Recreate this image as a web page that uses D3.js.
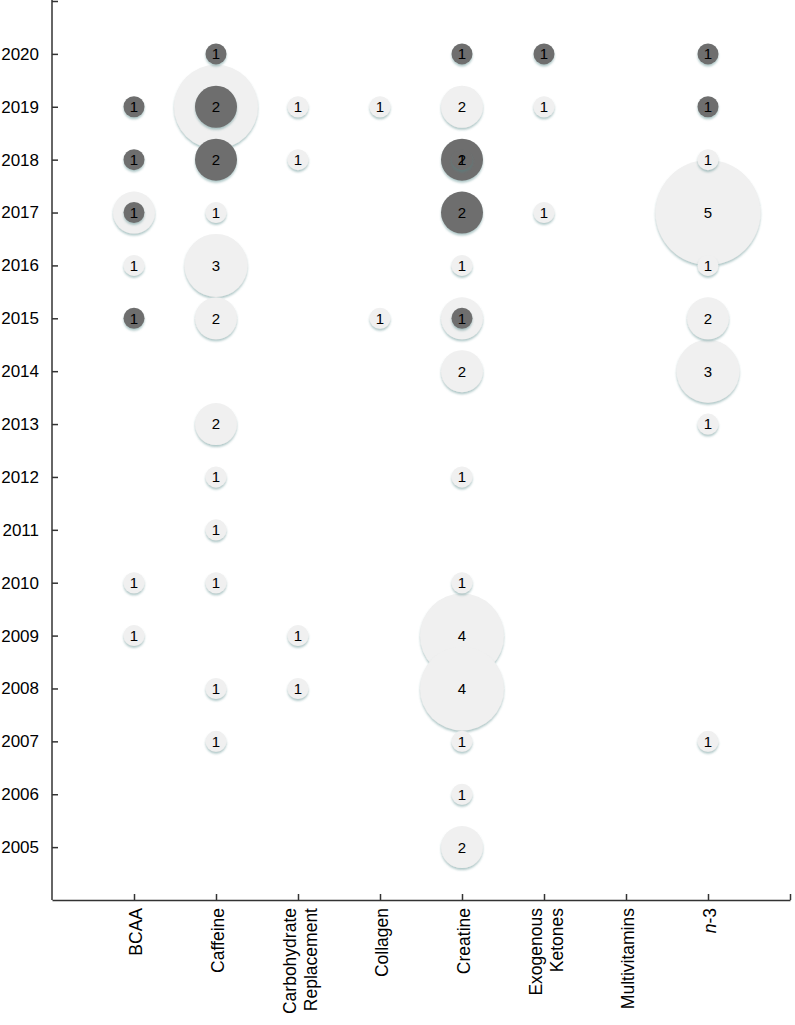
<!DOCTYPE html>
<html>
<head>
<meta charset="utf-8">
<script src="https://cdn.jsdelivr.net/npm/d3@7"></script>
<style>
  body { margin: 0; background: #fff; }
  svg { display: block; font-family: "Liberation Sans", Arial, sans-serif; }
  .axis path, .axis line { stroke: #333; stroke-width: 1.5; }
</style>
</head>
<body>
<div id="chart"></div>
<script>
// categories along x (multi-line labels split with \n)
var categories = ['BCAA', 'Caffeine', 'Carbohydrate\nReplacement', 'Collagen', 'Creatine', 'Exogenous\nKetones', 'Multivitamins', 'n-3'];
var yearTicks = d3.range(2005, 2022);

// light bubbles: [category, year, count]
var lightPoints = [
  ['BCAA', 2017, 2], ['BCAA', 2016, 1], ['BCAA', 2010, 1], ['BCAA', 2009, 1],
  ['Caffeine', 2019, 4], ['Caffeine', 2017, 1], ['Caffeine', 2016, 3], ['Caffeine', 2015, 2],
  ['Caffeine', 2013, 2], ['Caffeine', 2012, 1], ['Caffeine', 2011, 1], ['Caffeine', 2010, 1],
  ['Caffeine', 2008, 1], ['Caffeine', 2007, 1],
  ['Carbohydrate\nReplacement', 2019, 1], ['Carbohydrate\nReplacement', 2018, 1],
  ['Carbohydrate\nReplacement', 2009, 1], ['Carbohydrate\nReplacement', 2008, 1],
  ['Collagen', 2019, 1], ['Collagen', 2015, 1],
  ['Creatine', 2019, 2], ['Creatine', 2016, 1], ['Creatine', 2015, 2], ['Creatine', 2014, 2],
  ['Creatine', 2012, 1], ['Creatine', 2010, 1], ['Creatine', 2009, 4], ['Creatine', 2008, 4],
  ['Creatine', 2007, 1], ['Creatine', 2006, 1], ['Creatine', 2005, 2],
  ['Exogenous\nKetones', 2019, 1], ['Exogenous\nKetones', 2017, 1],
  ['n-3', 2018, 1], ['n-3', 2017, 5], ['n-3', 2016, 1], ['n-3', 2015, 2], ['n-3', 2014, 3],
  ['n-3', 2013, 1], ['n-3', 2007, 1]
];

// dark bubbles: [category, year, count]
var darkPoints = [
  ['BCAA', 2019, 1], ['BCAA', 2018, 1], ['BCAA', 2017, 1], ['BCAA', 2015, 1],
  ['Caffeine', 2020, 1], ['Caffeine', 2019, 2], ['Caffeine', 2018, 2],
  ['Creatine', 2020, 1], ['Creatine', 2018, 2], ['Creatine', 2018, 1], ['Creatine', 2017, 2],
  ['Creatine', 2015, 1],
  ['Exogenous\nKetones', 2020, 1],
  ['n-3', 2020, 1], ['n-3', 2019, 1]
];

var width = 795, height = 1025;
var svg = d3.select('#chart').append('svg')
  .attr('width', width)
  .attr('height', height);

var defs = svg.append('defs');
var shadow = defs.append('filter').attr('id', 'shadow')
  .attr('x', '-30%').attr('y', '-30%').attr('width', '160%').attr('height', '160%');
shadow.append('feDropShadow')
  .attr('dx', 0).attr('dy', 2).attr('stdDeviation', 1.3)
  .attr('flood-color', '#4f8585').attr('flood-opacity', 0.45);

// index 0 is the y axis, categories at 1..8, end of axis at 9
var x = d3.scaleLinear().domain([0, 9]).range([52, 790]);
var y = d3.scaleLinear().domain([2004, 2021]).range([900, 1]);
var r = d3.scaleLinear().domain([0, 5]).range([0, 52.5]);

function cx(d) { return x(categories.indexOf(d[0]) + 1); }

//------------------------------ axes ------------------------------//
var yAxis = svg.append('g')
  .attr('class', 'axis')
  .attr('transform', 'translate(' + x(0) + ',0)')
  .call(d3.axisLeft(y)
    .tickValues(yearTicks)
    .tickSizeInner(-6)
    .tickSizeOuter(0)
    .tickPadding(13)
    .tickFormat(function (d) { return d === 2021 ? '' : d; }));
yAxis.selectAll('text')
  .attr('fill', '#000')
  .style('font-size', '17px');

var xAxis = svg.append('g')
  .attr('class', 'axis')
  .attr('transform', 'translate(0,' + y(2004) + ')')
  .call(d3.axisBottom(x)
    .tickValues(d3.range(1, 10))
    .tickSizeInner(-6)
    .tickSizeOuter(0)
    .tickFormat(''));
yAxis.select('.domain').attr('d', 'M0,' + y(2004) + 'V0');

// rotated category labels
categories.forEach(function (c, i) {
  var lines = c.split('\n');
  var t = svg.append('text')
    .attr('transform', 'translate(' + x(i + 1) + ',' + (y(2004) + 8) + ') rotate(-90)')
    .attr('text-anchor', 'end')
    .style('font-size', '17.5px')
    .attr('fill', '#000');
  lines.forEach(function (line, j) {
    var tsp = t.append('tspan')
      .attr('x', 0)
      .attr('y', (j - (lines.length - 1) / 2) * 21 + 2)
      .attr('dy', '0.35em');
    if (line === 'n-3') {
      tsp.append('tspan').style('font-style', 'italic').text('n');
      tsp.append('tspan').text('-3');
    } else {
      tsp.text(line);
    }
  });
});

//------------------------------ bubbles ------------------------------//
// larger bubbles first so small ones sit on top
var lightSorted = lightPoints.slice().sort(function (a, b) { return b[2] - a[2] || b[1] - a[1]; });
var darkSorted = darkPoints.slice().sort(function (a, b) { return b[2] - a[2]; });

svg.append('g').selectAll('circle')
  .data(lightSorted)
  .enter().append('circle')
  .attr('cx', cx)
  .attr('cy', function (d) { return y(d[1]); })
  .attr('r', function (d) { return r(d[2]); })
  .attr('fill', '#f0f0f0')
  .attr('filter', 'url(#shadow)');

svg.append('g').selectAll('text')
  .data(lightSorted)
  .enter().append('text')
  .attr('x', cx)
  .attr('y', function (d) { return y(d[1]); })
  .attr('dy', '0.36em')
  .attr('text-anchor', 'middle')
  .style('font-size', '15px')
  .attr('fill', '#000')
  .text(function (d) { return d[2]; });

svg.append('g').selectAll('circle')
  .data(darkSorted)
  .enter().append('circle')
  .attr('cx', cx)
  .attr('cy', function (d) { return y(d[1]); })
  .attr('r', function (d) { return r(d[2]); })
  .attr('fill', '#6e6e6e')
  .attr('filter', 'url(#shadow)');

svg.append('g').selectAll('text')
  .data(darkSorted)
  .enter().append('text')
  .attr('x', cx)
  .attr('y', function (d) { return y(d[1]); })
  .attr('dy', '0.36em')
  .attr('text-anchor', 'middle')
  .style('font-size', '15px')
  .attr('fill', '#000')
  .text(function (d) { return d[2]; });
</script>
</body>
</html>
